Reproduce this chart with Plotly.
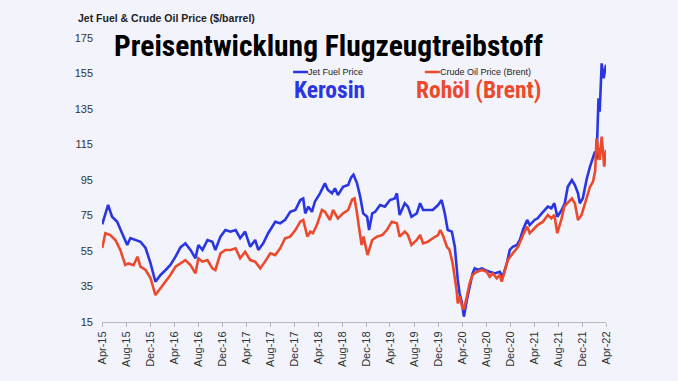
import plotly.graph_objects as go

# ---- data ----
jet_dates = [
    "2015-04-02", "2015-05-02", "2015-05-22", "2015-06-17", "2015-07-12", "2015-08-07",
    "2015-08-23", "2015-09-18", "2015-10-13", "2015-11-08", "2015-12-03", "2015-12-28",
    "2016-01-23", "2016-02-18", "2016-03-13", "2016-04-08", "2016-05-03", "2016-05-28",
    "2016-06-23", "2016-07-18", "2016-08-02", "2016-08-23", "2016-09-17", "2016-10-12",
    "2016-10-27", "2016-11-22", "2016-12-17", "2017-01-12", "2017-02-07", "2017-03-02",
    "2017-03-27", "2017-04-22", "2017-05-17", "2017-06-02", "2017-06-27", "2017-07-22",
    "2017-08-02", "2017-08-27", "2017-09-21", "2017-10-16", "2017-11-11", "2017-12-07",
    "2018-01-01", "2018-01-16", "2018-01-26", "2018-02-11", "2018-03-01", "2018-03-16",
    "2018-04-11", "2018-05-06", "2018-05-21", "2018-06-11", "2018-06-26", "2018-07-11",
    "2018-08-06", "2018-09-01", "2018-09-16", "2018-09-28", "2018-10-16", "2018-11-01",
    "2018-11-16", "2018-12-06", "2018-12-16", "2019-01-01", "2019-01-16", "2019-02-10",
    "2019-03-06", "2019-04-01", "2019-04-25", "2019-05-06", "2019-05-20", "2019-06-15",
    "2019-07-01", "2019-07-19", "2019-08-15", "2019-09-01", "2019-09-16", "2019-10-10",
    "2019-11-04", "2019-12-01", "2019-12-19", "2020-01-04", "2020-01-19", "2020-02-09",
    "2020-02-24", "2020-03-10", "2020-03-19", "2020-03-30", "2020-04-10", "2020-04-25",
    "2020-05-09", "2020-05-24", "2020-06-04", "2020-06-19", "2020-07-10", "2020-07-25",
    "2020-08-19", "2020-09-14", "2020-10-09", "2020-10-24", "2020-11-14", "2020-11-29",
    "2020-12-14", "2021-01-04", "2021-01-19", "2021-02-04", "2021-02-25", "2021-03-10",
    "2021-04-04", "2021-04-19", "2021-05-10", "2021-05-25", "2021-06-10", "2021-06-28",
    "2021-07-13", "2021-07-28", "2021-08-19", "2021-09-04", "2021-09-19", "2021-10-10",
    "2021-10-25", "2021-11-10", "2021-11-19", "2021-12-04", "2021-12-25", "2022-01-10",
    "2022-01-25", "2022-02-04", "2022-02-12", "2022-02-17", "2022-02-22", "2022-02-28",
    "2022-03-10", "2022-03-20", "2022-03-27", "2022-04-01",
]
jet_prices = [
    70.0, 81.0, 74.3, 71.5, 65.0, 58.4,
    62.3, 61.2, 60.2, 56.7, 48.2, 37.7,
    41.5, 44.3, 47.1, 51.8, 57.0, 59.3,
    55.6, 50.9, 58.4, 55.6, 61.2, 60.2,
    55.6, 63.1, 66.8, 65.9, 66.8, 62.2,
    65.9, 57.4, 61.2, 55.6, 59.3, 65.0,
    66.8, 71.5, 70.6, 72.5, 77.1, 78.1,
    83.7, 84.6, 76.2, 80.0, 77.1, 82.8,
    87.5, 93.1, 89.4, 87.5, 90.3, 86.5,
    91.2, 92.2, 96.5, 98.0, 93.1, 85.6,
    76.2, 74.3, 66.8, 76.2, 77.1, 80.9,
    80.0, 83.7, 84.6, 87.5, 75.3, 81.9,
    80.0, 74.3, 76.2, 81.9, 78.1, 78.1,
    78.1, 80.9, 83.7, 76.2, 66.8, 65.9,
    57.4, 38.7, 31.2, 26.4, 18.0, 27.4,
    34.9, 42.4, 45.2, 44.3, 45.2, 44.3,
    43.3, 42.4, 43.3, 40.5, 48.1, 55.6,
    57.4, 58.4, 61.2, 67.0, 72.5, 69.6,
    72.5, 73.4, 76.2, 78.1, 80.0, 79.1,
    81.9, 74.3, 78.1, 81.9, 91.2, 95.0,
    92.2, 87.5, 81.9, 84.6, 96.0, 102.5,
    107.2, 111.0, 106.5, 130.7, 141.0, 133.5,
    160.7, 152.3, 158.8, 160.0,
]

brent_dates = [
    "2015-04-02", "2015-04-18", "2015-05-13", "2015-06-08", "2015-07-03", "2015-07-28",
    "2015-08-13", "2015-09-08", "2015-09-28", "2015-10-13", "2015-11-08", "2015-12-03",
    "2015-12-28", "2016-01-23", "2016-02-18", "2016-03-13", "2016-04-08", "2016-05-03",
    "2016-05-28", "2016-06-23", "2016-07-18", "2016-08-02", "2016-08-23", "2016-09-17",
    "2016-10-12", "2016-10-27", "2016-11-22", "2016-12-17", "2017-01-12", "2017-02-07",
    "2017-03-02", "2017-03-27", "2017-04-22", "2017-05-17", "2017-06-12", "2017-07-06",
    "2017-07-22", "2017-08-02", "2017-08-27", "2017-09-21", "2017-10-16", "2017-11-11",
    "2017-12-07", "2018-01-01", "2018-01-16", "2018-02-06", "2018-02-21", "2018-03-06",
    "2018-03-26", "2018-04-21", "2018-05-06", "2018-06-01", "2018-06-16", "2018-07-11",
    "2018-08-06", "2018-09-01", "2018-09-21", "2018-10-03", "2018-10-12", "2018-10-25",
    "2018-11-08", "2018-11-18", "2018-12-08", "2019-01-01", "2019-01-25", "2019-02-21",
    "2019-03-16", "2019-04-10", "2019-05-06", "2019-05-20", "2019-06-15", "2019-07-01",
    "2019-07-19", "2019-08-15", "2019-09-01", "2019-09-16", "2019-10-10", "2019-11-04",
    "2019-12-01", "2019-12-12", "2019-12-25", "2020-01-15", "2020-01-28", "2020-02-13",
    "2020-03-04", "2020-03-10", "2020-03-19", "2020-03-30", "2020-04-10", "2020-04-25",
    "2020-05-09", "2020-05-24", "2020-06-16", "2020-07-10", "2020-08-04", "2020-08-19",
    "2020-09-04", "2020-09-24", "2020-10-09", "2020-10-19", "2020-11-04", "2020-11-19",
    "2020-12-14", "2021-01-10", "2021-02-04", "2021-02-25", "2021-03-10", "2021-03-25",
    "2021-04-19", "2021-05-16", "2021-06-10", "2021-06-28", "2021-07-13", "2021-07-28",
    "2021-08-19", "2021-09-01", "2021-10-10", "2021-10-25", "2021-11-10", "2021-11-28",
    "2021-12-25", "2022-01-10", "2022-01-25", "2022-02-05", "2022-02-12", "2022-02-28",
    "2022-03-10", "2022-03-23", "2022-04-01",
]
brent_prices = [
    56.7, 65.0, 64.0, 61.2, 55.6, 47.1,
    48.0, 47.0, 51.8, 46.2, 44.3, 39.8,
    30.2, 34.2, 37.7, 41.5, 46.2, 48.0,
    49.9, 47.1, 42.4, 50.9, 49.0, 49.9,
    45.2, 44.3, 53.7, 55.6, 55.6, 56.5,
    50.9, 54.6, 49.9, 49.0, 45.2, 49.0,
    51.8, 53.7, 52.7, 56.5, 62.2, 63.1,
    66.8, 71.5, 72.5, 63.1, 65.9, 65.0,
    69.6, 78.1, 77.1, 72.5, 78.1, 73.4,
    76.2, 78.1, 84.0, 84.6, 79.0, 70.0,
    58.4, 63.1, 52.7, 61.2, 63.1, 64.0,
    66.8, 71.5, 70.6, 63.1, 65.9, 64.0,
    58.4, 61.2, 64.0, 59.3, 60.2, 62.2,
    64.0, 66.8, 64.0, 57.4, 55.6, 48.1,
    33.0, 25.5, 29.3, 24.6, 22.0, 29.3,
    36.8, 41.5, 43.3, 44.3, 43.3, 40.5,
    42.4, 39.6, 41.5, 37.7, 44.3, 49.9,
    53.7, 57.4, 64.0, 68.7, 65.0, 66.8,
    69.6, 71.5, 75.3, 73.4, 75.3, 65.0,
    73.4, 80.0, 84.6, 81.9, 72.5, 75.3,
    85.6, 91.2, 94.0, 100.0, 118.5, 106.3,
    119.4, 102.5, 111.9,
]

y_ticks = [15, 35, 55, 75, 95, 115, 135, 155, 175]

BLUE = "#2a36e2"
RED = "#ec4a2c"
BG = "#f2f3fb"
HEAVY = "Roboto Condensed, DejaVu Sans Condensed, Liberation Sans Narrow, sans-serif"

fig = go.Figure()
fig.add_trace(go.Scatter(x=jet_dates, y=jet_prices, mode="lines", name="Jet Fuel Price",
                         line=dict(color=BLUE, width=2.6)))
fig.add_trace(go.Scatter(x=brent_dates, y=brent_prices, mode="lines", name="Crude Oil Price (Brent)",
                         line=dict(color=RED, width=2.6)))

fig.update_layout(
    width=678, height=381,
    margin=dict(l=101.5, r=71.5, t=38, b=59),
    paper_bgcolor=BG, plot_bgcolor=BG,
    showlegend=False,
    font=dict(family="Liberation Sans, Arial, sans-serif", color="#333333"),
)
fig.update_xaxes(
    type="date", range=["2015-04-01", "2022-04-01"],
    tick0="2015-04-01", dtick="M4", tickformat="%b-%y", tickangle=-90,
    showgrid=False, zeroline=False,
    showline=True, linecolor="#b8b8c4", linewidth=1,
    ticks="outside", ticklen=4, tickcolor="#b8b8c4",
    tickfont=dict(size=11, color="#333333"),
)
fig.update_yaxes(
    range=[15, 175], tickvals=y_ticks, showgrid=False, zeroline=False,
    showline=False, ticks="", ticklabelstandoff=8,
    tickfont=dict(size=11, color="#333333"),
)


def px_x(px):
    return (px - 101.5) / 505


def px_y(py):
    return (322 - py) / 284


# chart title (small, top-left)
fig.add_annotation(text="<b>Jet Fuel & Crude Oil Price ($/barrel)</b>", xref="paper", yref="paper",
                   x=px_x(75), y=px_y(18), xanchor="left", yanchor="middle",
                   showarrow=False, font=dict(size=10.5, color="#222222", family="Liberation Sans"))
# big overlay title
fig.add_annotation(text="<b>Preisentwicklung Flugzeugtreibstoff</b>", xref="paper", yref="paper",
                   x=px_x(328.5), y=px_y(46), xanchor="center", yanchor="middle",
                   showarrow=False, font=dict(size=29.5, color="#000000", family=HEAVY))

# legend entries
for x0, x1, col, label in [(293, 308, BLUE, "Jet Fuel Price"), (425, 440, RED, "Crude Oil Price (Brent)")]:
    fig.add_shape(type="line", xref="paper", yref="paper", x0=px_x(x0), x1=px_x(x1),
                  y0=px_y(72), y1=px_y(72), line=dict(color=col, width=2.5))
    fig.add_annotation(text=label, xref="paper", yref="paper", x=px_x(x1 - 2), y=px_y(72),
                       xanchor="left", yanchor="middle", showarrow=False,
                       font=dict(size=9, color="#222222", family="Liberation Sans"))

fig.add_annotation(text="<b>Kerosin</b>", xref="paper", yref="paper", x=px_x(292), y=px_y(90),
                   xanchor="left", yanchor="middle", showarrow=False,
                   font=dict(size=23.5, color=BLUE, family=HEAVY))
fig.add_annotation(text="<b>Rohöl (Brent)</b>", xref="paper", yref="paper", x=px_x(414), y=px_y(90),
                   xanchor="left", yanchor="middle", showarrow=False,
                   font=dict(size=23.5, color=RED, family=HEAVY))

fig.write_html("out.html", config={"displayModeBar": False},
               post_script="document.body.style.margin='0';")
